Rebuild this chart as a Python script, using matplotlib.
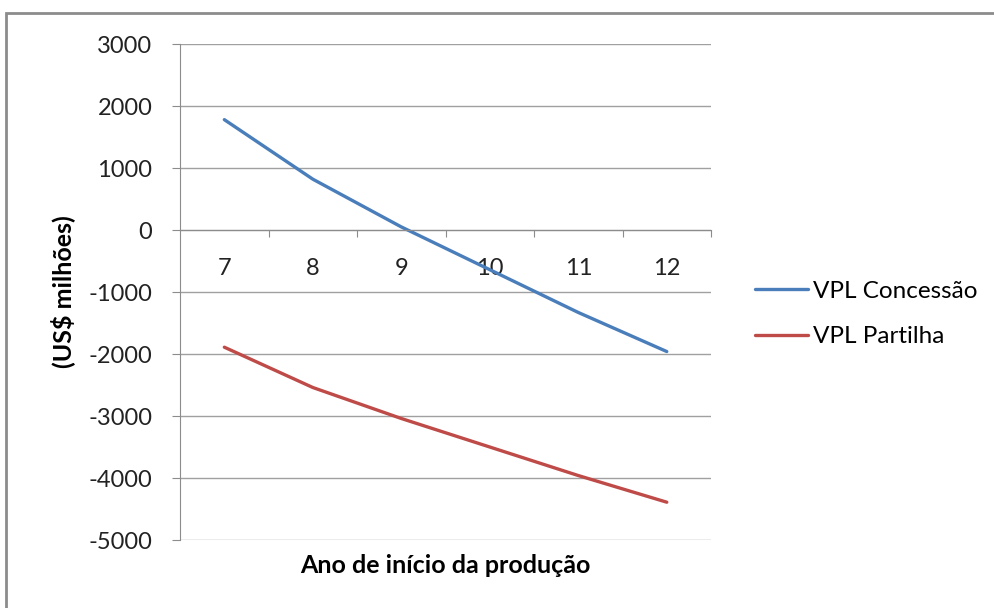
import matplotlib.pyplot as plt
from matplotlib.patches import Rectangle

# Ano de início da produção vs VPL (US$ milhões)
anos = [7, 8, 9, 10, 11, 12]
vpl_concessao = [1780, 820, 50, -640, -1330, -1960]
vpl_partilha = [-1890, -2540, -3040, -3500, -3960, -4390]

plt.rcParams['font.family'] = ['Lato', 'DejaVu Sans']
plt.rcParams['axes.unicode_minus'] = False

fig = plt.figure(figsize=(9.95, 6.08), dpi=100)
ax = fig.add_axes([0.181, 0.1118, 0.5336, 0.8158])

# outer frame of the chart area
fig.patches.append(Rectangle((0.006, -0.05), 1.1, 1.028, transform=fig.transFigure,
                             fill=False, edgecolor='#8c8c8c', linewidth=2))

ax.plot(anos, vpl_concessao, color='#4a7ebb', linewidth=2.4, label='VPL Concessão',
        solid_capstyle='round')
ax.plot(anos, vpl_partilha, color='#be4b48', linewidth=2.4, label='VPL Partilha',
        solid_capstyle='round')

ax.set_xlim(6.5, 12.5)
ax.set_ylim(-5000, 3000)
ax.set_yticks(range(-5000, 3001, 1000))
ax.yaxis.grid(True, color='#a0a0a0', linewidth=1)
ax.set_axisbelow(True)

# category axis drawn across y = 0
for s in ['top', 'right']:
    ax.spines[s].set_visible(False)
ax.spines['bottom'].set_position(('data', 0))
ax.spines['bottom'].set_color('#8c8c8c')
ax.spines['left'].set_color('#8c8c8c')
ax.set_xticks([a + 0.5 for a in anos])
ax.set_xticklabels([])
ax.set_xticks(anos, minor=True)
ax.set_xticklabels([str(a) for a in anos], minor=True)
ax.tick_params(axis='x', which='major', direction='out', length=5, color='#8c8c8c')
ax.tick_params(axis='x', which='minor', length=0, pad=20, labelsize=17, labelcolor='#222222')
ax.tick_params(axis='y', length=6, pad=14, color='#8c8c8c', labelsize=17, labelcolor='#222222')

ax.set_xlabel('Ano de início da produção', fontsize=18, fontweight='bold')
ax.xaxis.set_label_coords(0.5, -0.028)
ax.set_ylabel('(US$ milhões)', fontsize=18, fontweight='bold')
ax.yaxis.set_label_coords(-0.198, 0.5)

ax.legend(loc='center left', bbox_to_anchor=(1.041, 0.456), frameon=False, fontsize=17.5,
          handlelength=2.2, handletextpad=0.2, labelspacing=1.0)

fig.savefig('out.png', dpi=100)
